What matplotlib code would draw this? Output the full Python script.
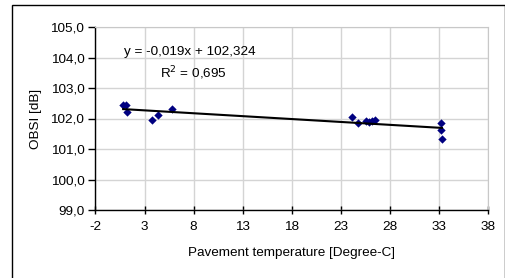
import matplotlib
matplotlib.use("Agg")
import matplotlib.pyplot as plt
from matplotlib.patches import Rectangle
from matplotlib.ticker import FuncFormatter

plt.rcParams['font.family'] = ['Liberation Sans', 'DejaVu Sans']
plt.rcParams['axes.unicode_minus'] = False

temperature = [0.82, 1.06, 1.23, 3.74, 4.32, 5.81, 24.15, 24.79, 25.54, 25.88,
               26.18, 26.49, 33.18, 33.18, 33.31]
obsi = [102.44, 102.44, 102.22, 101.95, 102.12, 102.31, 102.04, 101.84, 101.92,
        101.87, 101.91, 101.96, 101.85, 101.63, 101.32]
slope = -0.019
intercept = 102.324
r_squared = 0.695
x_ticks = [-2, 3, 8, 13, 18, 23, 28, 33, 38]
y_ticks = [99, 100, 101, 102, 103, 104, 105]

W, H = 506, 278
fs = 9.7
fig = plt.figure(figsize=(W / 100, H / 100), dpi=100)
fig.patch.set_facecolor('white')
fig.patches.append(Rectangle((12 / W, -0.1), (505 - 12) / W, 1.1 - 5 / H,
                             transform=fig.transFigure, fill=False,
                             edgecolor='black', linewidth=1.0))

ax = fig.add_axes([95.5 / W, (H - 210) / H, (488 - 95.5) / W, (210 - 27) / H])
ax.set_xlim(-2, 38)
ax.set_ylim(99, 105)
ax.set_xticks(x_ticks)
ax.set_yticks(y_ticks)
ax.yaxis.set_major_formatter(FuncFormatter(lambda v, p: f"{v:.1f}".replace('.', ',')))
ax.grid(True, color='#d4d4d4', linewidth=1.0)
ax.set_axisbelow(True)
for s in ['top', 'right']:
    ax.spines[s].set_color('#c8c8c8')
for s in ['left', 'bottom']:
    ax.spines[s].set_color('black')
    ax.spines[s].set_linewidth(1.0)
ax.tick_params(axis='y', direction='out', length=5, width=1.0, labelsize=fs,
               color='black', pad=3)
ax.tick_params(axis='x', direction='inout', length=6, width=1.0, labelsize=fs,
               color='black', pad=5)

ax.scatter(temperature, obsi, marker='D', s=18, color='#000080', zorder=3, linewidths=0)
xmin, xmax = min(temperature), max(temperature)
ax.plot([xmin, xmax], [slope * xmin + intercept, slope * xmax + intercept],
        color='black', linewidth=1.5, zorder=4)

eq = f"y = {slope:.3f}x + {intercept:.3f}".replace('.', ',')
ax.text(0.88, 104.19, eq, fontsize=fs, va='center', ha='left')
ax.text(4.55, 103.5, f"R$^2$ = {r_squared:.3f}".replace('.', ','), fontsize=fs,
        va='center', ha='left')

ax.set_xlabel('Pavement temperature [Degree-C]', fontsize=fs, labelpad=10)
ax.set_ylabel('OBSI [dB]', fontsize=fs, labelpad=6)

fig.savefig('out.png', dpi=100)
